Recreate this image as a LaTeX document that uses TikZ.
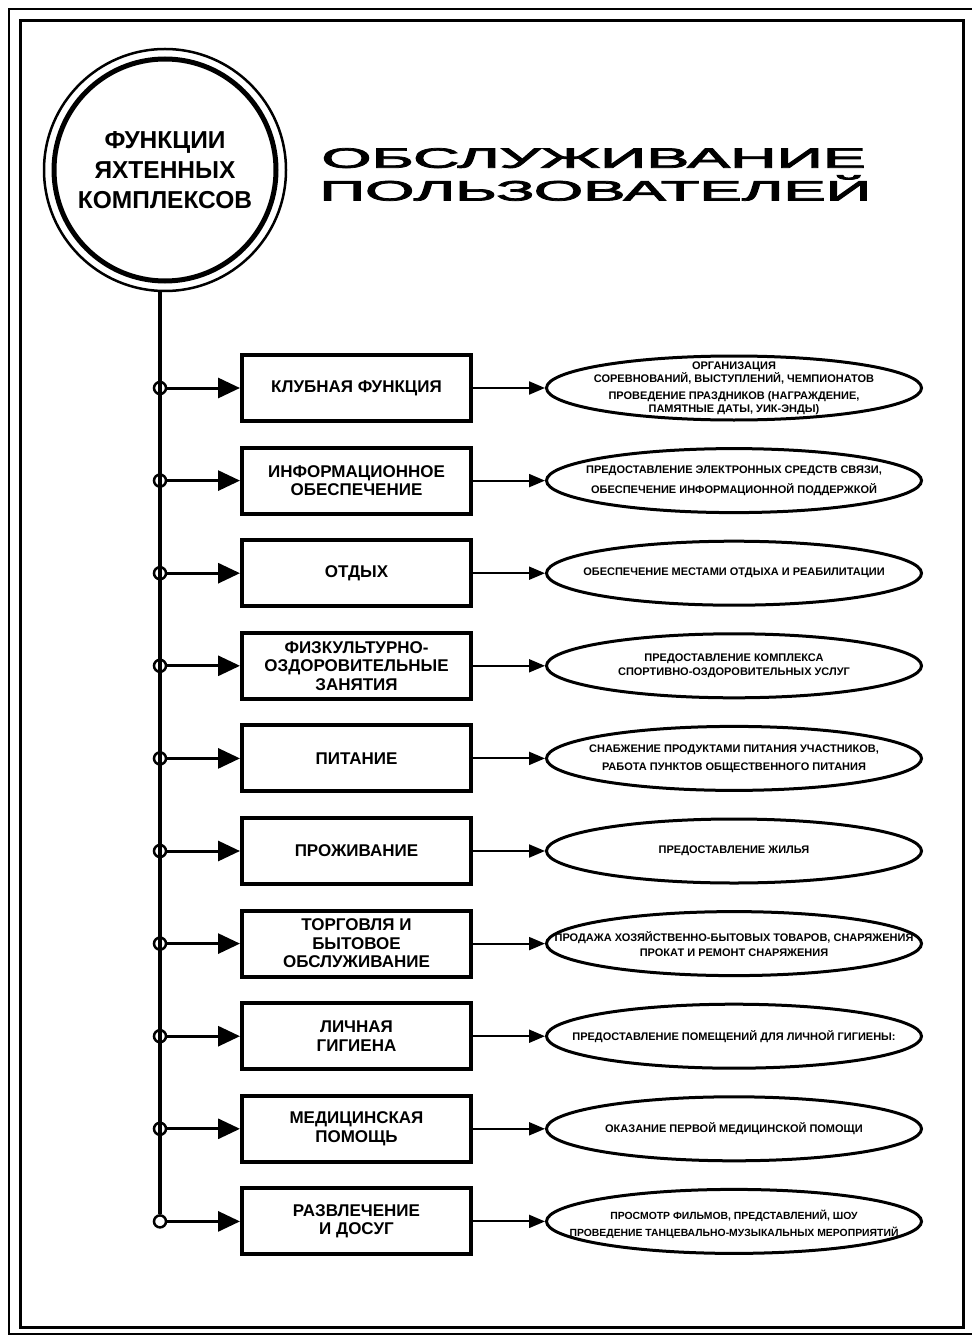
\documentclass[tikz,border=0pt]{standalone}
\usepackage{fontspec}
\setmainfont{Liberation Sans}
\newfontfamily\titlefont[FakeBold=2.5]{Liberation Sans}
\usetikzlibrary{positioning}
\usetikzlibrary{arrows.meta}
\usetikzlibrary{shapes}

\begin{document}
\begin{tikzpicture}[x=1pt,y=-1pt,
  box/.style={draw,line width=4pt,minimum width=229pt,minimum height=66pt,inner sep=0pt,align=center,font=\bfseries\fontsize{17}{18.5}\selectfont},
  ell/.style={ellipse,draw,line width=3pt,minimum width=375pt,minimum height=64pt,inner sep=0pt},
  etxt/.style={align=center,inner sep=0pt,font=\bfseries\fontsize{11}{13}\selectfont},
  ttl/.style={font=\titlefont\fontsize{28}{29}\selectfont,xscale=2.3,inner sep=0pt,anchor=north west},
  dot/.style={circle,draw,line width=2.5pt,minimum size=12pt,inner sep=0pt},
  bigarr/.style={line width=3pt,-{Triangle[length=22pt,width=20pt]}},
  smallarr/.style={line width=2pt,-{Triangle[length=16pt,width=13pt]}}]

\useasboundingbox (0,0) rectangle (971,1337);

\draw[line width=2.5pt] (9,9) rectangle (985,1334);
\draw[line width=3pt] (20,21) rectangle (963,1327);

\node[circle,draw,line width=5pt,minimum size=222pt,align=center,font=\bfseries\fontsize{24.5}{30}\selectfont] (fn) at (165,170) {ФУНКЦИИ\\ЯХТЕННЫХ\\КОМПЛЕКСОВ};
\node[circle,draw,line width=2.5pt,minimum size=242pt] (ring) at (fn) {};

\node[ttl] (t1) at (321,148) {ОБСЛУЖИВАНИЕ};
\node[ttl,xscale=0.985] (t2) at (319,175) {ПОЛЬЗОВАТЕЛЕЙ};

\node[dot] (d1) at (160,388) {};
\node[dot] (d2) at (160,480.6) {};
\node[dot] (d3) at (160,573.2) {};
\node[dot] (d4) at (160,665.8) {};
\node[dot] (d5) at (160,758.4) {};
\node[dot] (d6) at (160,851) {};
\node[dot] (d7) at (160,943.6) {};
\node[dot] (d8) at (160,1036.2) {};
\node[dot] (d9) at (160,1128.8) {};
\node[dot] (d10) at (160,1221.4) {};

\draw[line width=3.5pt] (ring.south -| d1) -- (d10.north);

\node[box] (b1) at (356.5,388) {КЛУБНАЯ ФУНКЦИЯ};
\node[box] (b2) at (356.5,480.6) {ИНФОРМАЦИОННОЕ\\ОБЕСПЕЧЕНИЕ};
\node[box] (b3) at (356.5,573.2) {ОТДЫХ};
\node[box] (b4) at (356.5,665.8) {ФИЗКУЛЬТУРНО-\\ОЗДОРОВИТЕЛЬНЫЕ\\ЗАНЯТИЯ};
\node[box] (b5) at (356.5,758.4) {ПИТАНИЕ};
\node[box] (b6) at (356.5,851) {ПРОЖИВАНИЕ};
\node[box] (b7) at (356.5,943.6) {ТОРГОВЛЯ И\\БЫТОВОЕ\\ОБСЛУЖИВАНИЕ};
\node[box] (b8) at (356.5,1036.2) {ЛИЧНАЯ\\ГИГИЕНА};
\node[box] (b9) at (356.5,1128.8) {МЕДИЦИНСКАЯ\\ПОМОЩЬ};
\node[box] (b10) at (356.5,1221.4) {РАЗВЛЕЧЕНИЕ\\И ДОСУГ};

\node[ell] (e1) at (734,388) {};
\node[ell] (e2) at (734,480.6) {};
\node[ell] (e3) at (734,573.2) {};
\node[ell] (e4) at (734,665.8) {};
\node[ell] (e5) at (734,758.4) {};
\node[ell] (e6) at (734,851) {};
\node[ell] (e7) at (734,943.6) {};
\node[ell] (e8) at (734,1036.2) {};
\node[ell] (e9) at (734,1128.8) {};
\node[ell] (e10) at (734,1221.4) {};

\node[etxt] (s1) at (e1) {ОРГАНИЗАЦИЯ\\СОРЕВНОВАНИЙ, ВЫСТУПЛЕНИЙ, ЧЕМПИОНАТОВ\\[4pt]ПРОВЕДЕНИЕ ПРАЗДНИКОВ (НАГРАЖДЕНИЕ,\\ПАМЯТНЫЕ ДАТЫ, УИК-ЭНДЫ)};
\node[etxt] (s2) at (e2) {ПРЕДОСТАВЛЕНИЕ ЭЛЕКТРОННЫХ СРЕДСТВ СВЯЗИ,\\[7pt]ОБЕСПЕЧЕНИЕ ИНФОРМАЦИОННОЙ ПОДДЕРЖКОЙ};
\node[etxt] (s3) at (e3) {ОБЕСПЕЧЕНИЕ МЕСТАМИ ОТДЫХА И РЕАБИЛИТАЦИИ};
\node[etxt] (s4) at (e4) {ПРЕДОСТАВЛЕНИЕ КОМПЛЕКСА\\[1pt]СПОРТИВНО-ОЗДОРОВИТЕЛЬНЫХ УСЛУГ};
\node[etxt] (s5) at (e5) {СНАБЖЕНИЕ ПРОДУКТАМИ ПИТАНИЯ УЧАСТНИКОВ,\\[5pt]РАБОТА ПУНКТОВ ОБЩЕСТВЕННОГО ПИТАНИЯ};
\node[etxt] (s6) at (e6) {ПРЕДОСТАВЛЕНИЕ ЖИЛЬЯ};
\node[etxt] (s7) at (e7) {ПРОДАЖА ХОЗЯЙСТВЕННО-БЫТОВЫХ ТОВАРОВ, СНАРЯЖЕНИЯ\\[2pt]ПРОКАТ И РЕМОНТ СНАРЯЖЕНИЯ};
\node[etxt] (s8) at (e8) {ПРЕДОСТАВЛЕНИЕ ПОМЕЩЕНИЙ ДЛЯ ЛИЧНОЙ ГИГИЕНЫ:};
\node[etxt] (s9) at (e9) {ОКАЗАНИЕ ПЕРВОЙ МЕДИЦИНСКОЙ ПОМОЩИ};
\node[etxt,font=\bfseries\fontsize{10.4}{13}\selectfont] (s10) at ([yshift=-3pt]e10.center) {ПРОСМОТР ФИЛЬМОВ, ПРЕДСТАВЛЕНИЙ, ШОУ\\[4pt]ПРОВЕДЕНИЕ ТАНЦЕВАЛЬНО-МУЗЫКАЛЬНЫХ МЕРОПРИЯТИЙ};

\draw[bigarr] (d1) -- (b1);
\draw[bigarr] (d2) -- (b2);
\draw[bigarr] (d3) -- (b3);
\draw[bigarr] (d4) -- (b4);
\draw[bigarr] (d5) -- (b5);
\draw[bigarr] (d6) -- (b6);
\draw[bigarr] (d7) -- (b7);
\draw[bigarr] (d8) -- (b8);
\draw[bigarr] (d9) -- (b9);
\draw[bigarr] (d10) -- (b10);

\draw[smallarr] (b1) -- (e1);
\draw[smallarr] (b2) -- (e2);
\draw[smallarr] (b3) -- (e3);
\draw[smallarr] (b4) -- (e4);
\draw[smallarr] (b5) -- (e5);
\draw[smallarr] (b6) -- (e6);
\draw[smallarr] (b7) -- (e7);
\draw[smallarr] (b8) -- (e8);
\draw[smallarr] (b9) -- (e9);
\draw[smallarr] (b10) -- (e10);
\end{tikzpicture}
\end{document}
